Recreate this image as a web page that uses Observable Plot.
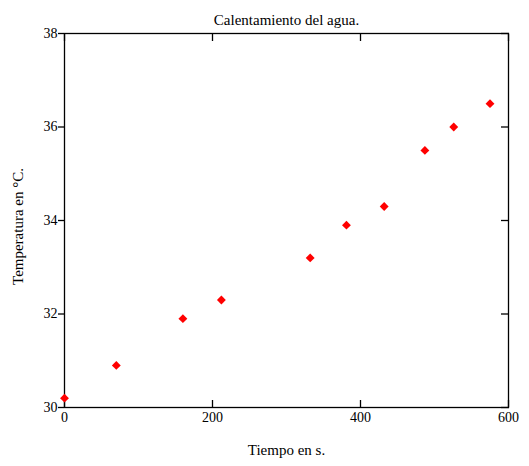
<!DOCTYPE html>
<html>
<head>
<meta charset="utf-8">
<script src="https://cdn.jsdelivr.net/npm/d3@7"></script>
<script src="https://cdn.jsdelivr.net/npm/@observablehq/plot@0.6"></script>
<style>
  html, body { margin: 0; padding: 0; background: #fff; }
  svg { display: block; }
</style>
</head>
<body>
<div id="chart"></div>
<script>
const tiempo = [0, 70, 160, 212, 332, 381, 432, 487, 526, 575];
const temperatura = [30.2, 30.9, 31.9, 32.3, 33.2, 33.9, 34.3, 35.5, 36.0, 36.5];
const xTicks = [0, 200, 400, 600];
const yTicks = [30, 32, 34, 36, 38];
const title = "Calentamiento del agua.";
const xLabel = "Tiempo en s.";
const yLabel = "Temperatura en °C.";

const data = tiempo.map((t, i) => ({t, temp: temperatura[i]}));
const font = "Liberation Serif, Times New Roman, serif";

const chart = Plot.plot({
  width: 529,
  height: 466,
  marginTop: 33,
  marginBottom: 59,
  marginLeft: 64,
  marginRight: 21,
  style: {fontFamily: font, fontSize: "14px", color: "black", background: "white"},
  x: {domain: [0, 600]},
  y: {domain: [30, 38]},
  marks: [
    Plot.frame({stroke: "black", strokeWidth: 1.3}),
    // bottom ticks (inward) and labels
    Plot.axisX({anchor: "bottom", ticks: xTicks, tickSize: -7, tickFormat: () => "", label: null, strokeWidth: 1.3}),
    Plot.axisX({anchor: "bottom", ticks: xTicks, tickSize: 0, tickPadding: 5, fontSize: 14, label: null}),
    // top ticks (inward)
    Plot.axisX({anchor: "top", ticks: xTicks, tickSize: -7, tickFormat: () => "", label: null, strokeWidth: 1.3}),
    // left ticks (outward) and labels
    Plot.axisY({anchor: "left", ticks: yTicks, tickSize: 6, tickPadding: 1, fontSize: 14, strokeWidth: 1.3, label: null}),
    // right ticks (inward)
    Plot.axisY({anchor: "right", ticks: yTicks, tickSize: -8, tickFormat: () => "", label: null, strokeWidth: 1.3}),
    Plot.dot(data, {x: "t", y: "temp", symbol: "diamond2", r: 4, fill: "#ff0000", stroke: "none"}),
    // title and axis labels
    Plot.text([title], {frameAnchor: "top", dy: -19, fontSize: 15, text: d => d}),
    Plot.text([xLabel], {frameAnchor: "bottom", dy: 47, fontSize: 15, text: d => d}),
    Plot.text([yLabel], {frameAnchor: "left", textAnchor: "middle", dx: -46, dy: 6, rotate: -90, fontSize: 15, text: d => d})
  ]
});
document.getElementById("chart").appendChild(chart);
</script>
</body>
</html>
